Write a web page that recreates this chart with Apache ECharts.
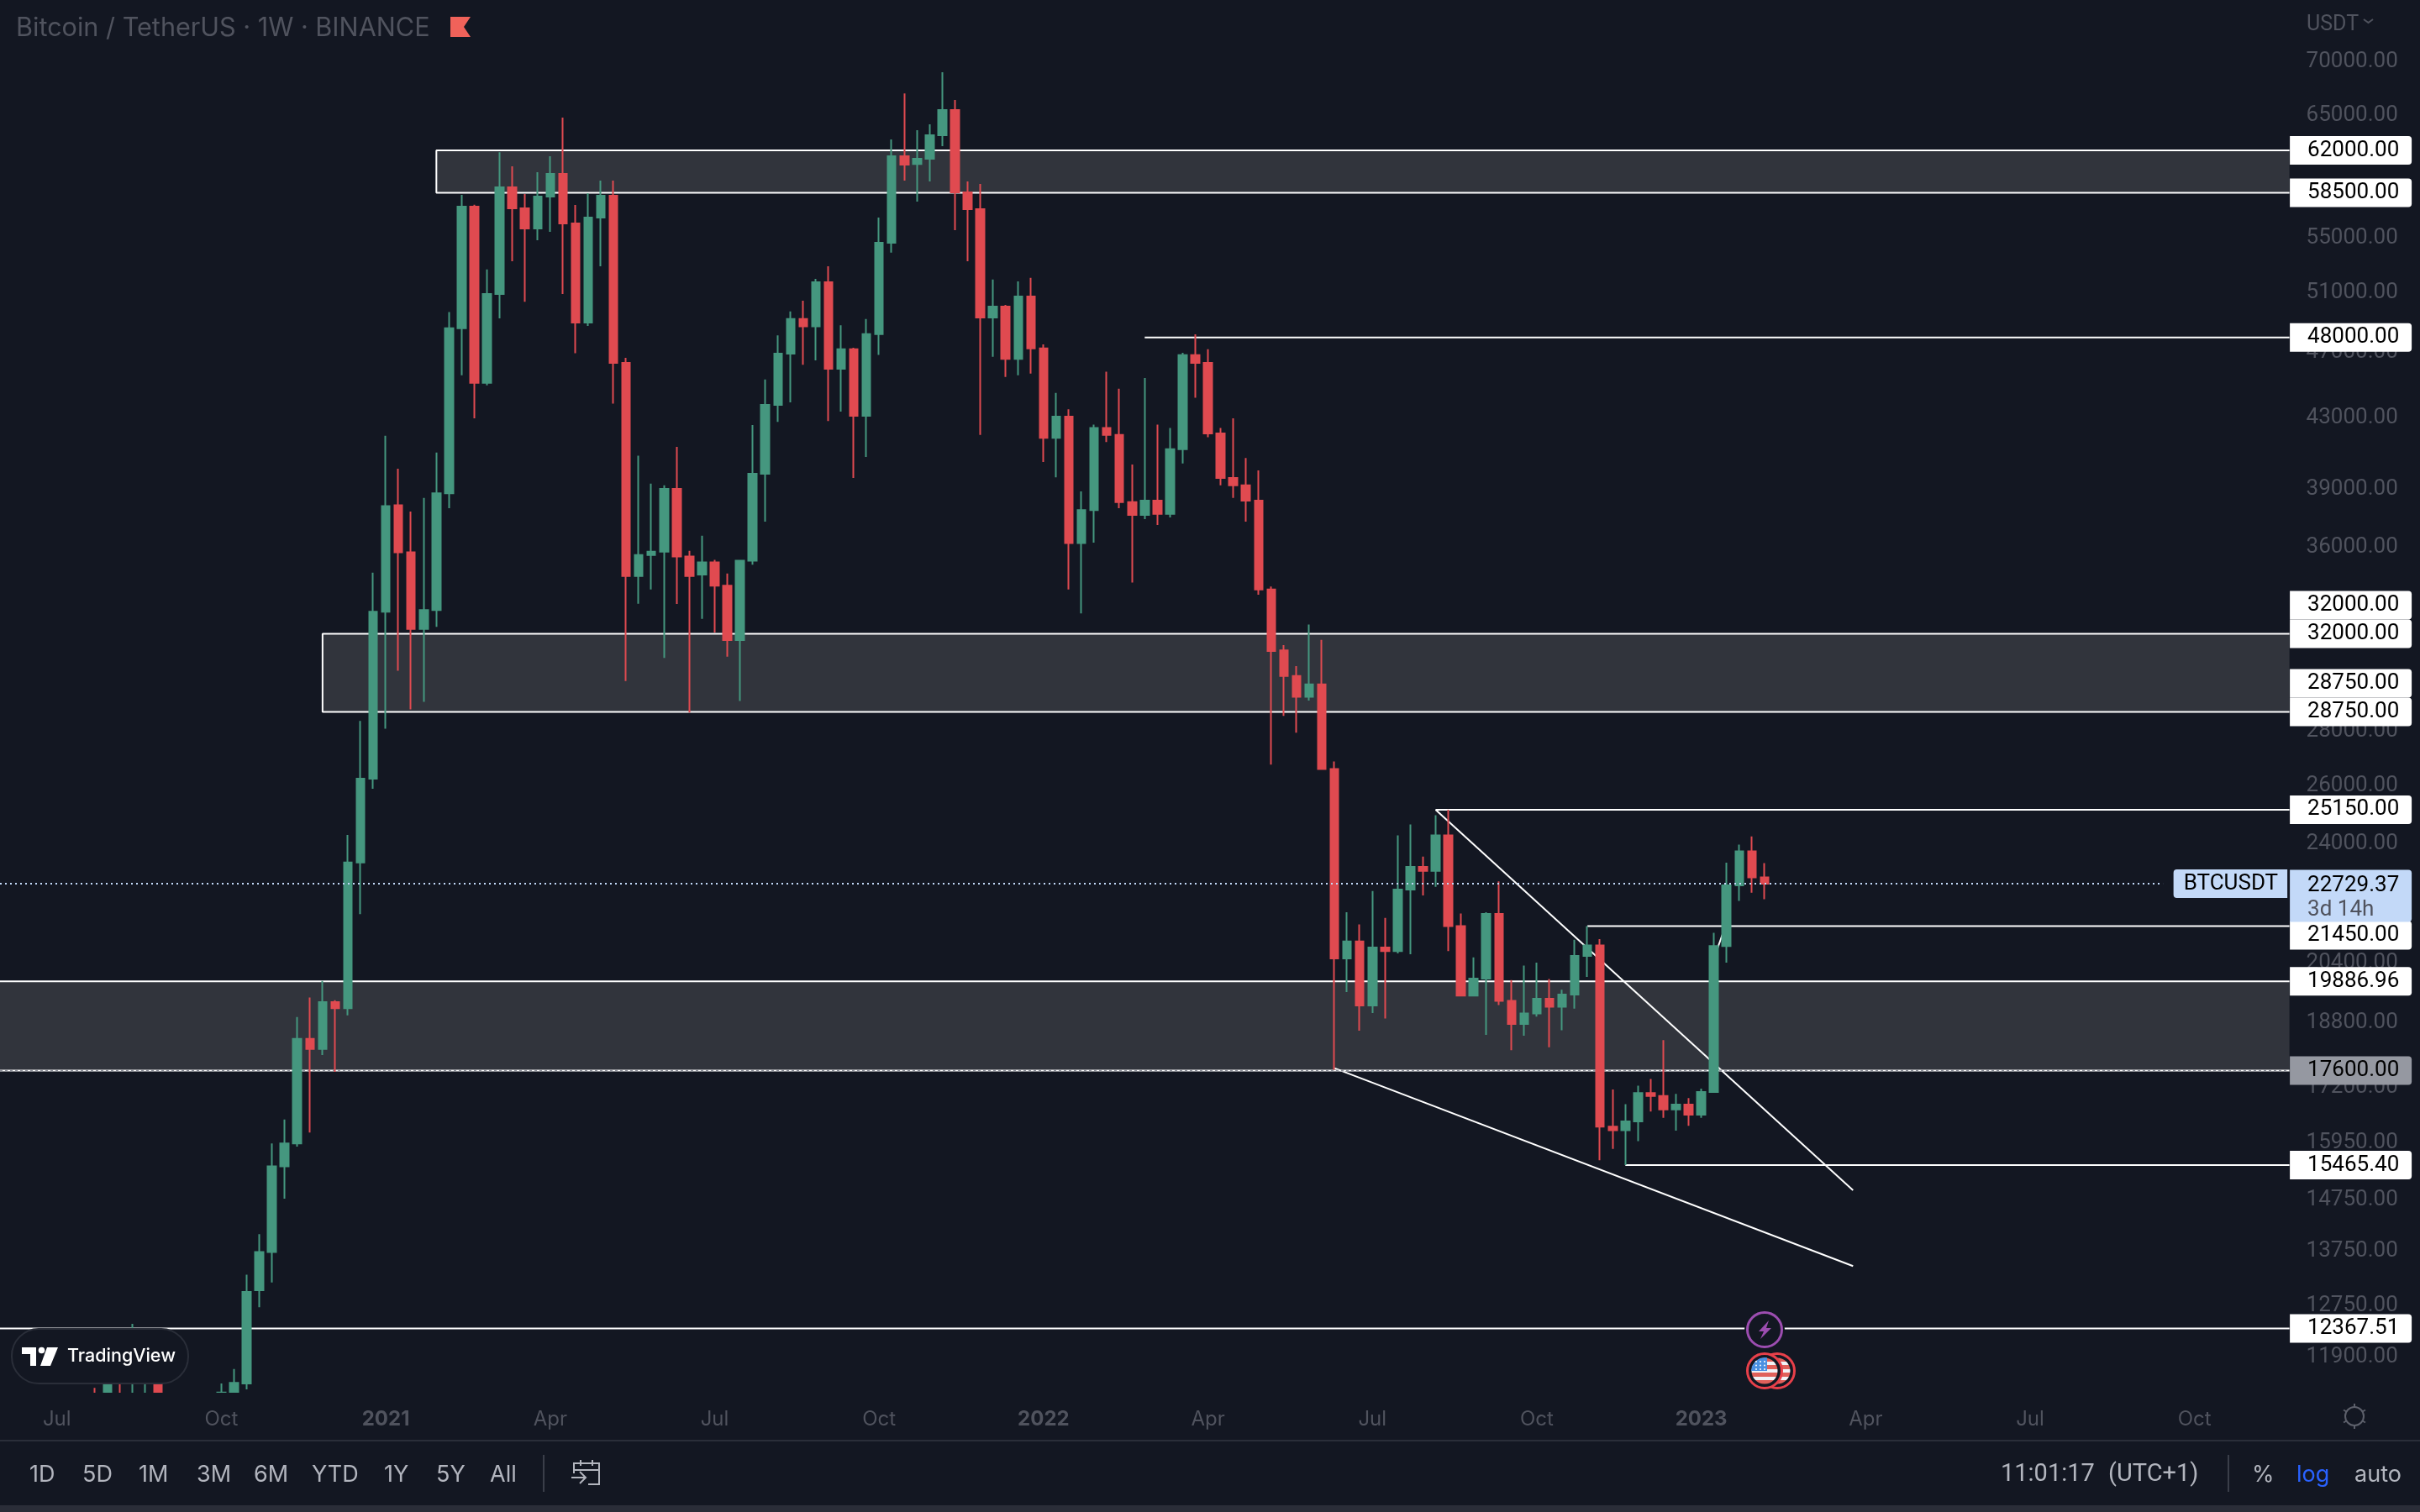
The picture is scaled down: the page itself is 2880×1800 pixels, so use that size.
<!DOCTYPE html>
<html><head><meta charset="utf-8"><style>html,body{margin:0;padding:0;background:#131722}#c{width:2880px;height:1800px}</style>
<script src="https://cdn.jsdelivr.net/npm/echarts@6/dist/echarts.min.js"></script></head><body><div id="c"></div>
<script>
const opens=[10000,11050,10950,11280,11000,11700,10250,10330,10930,10780,10670,11330,11470,13030,13730,15440,15930,18380,18130,19330,19170,23400,26240,32980,38150,35770,32210,33050,38780,48600,57400,45110,50930,58940,57270,55710,58200,60040,56100,48990,56550,58270,46350,34630,35640,35800,39010,35570,34700,35280,34170,31720,35360,39830,43770,46950,49220,48730,51770,45980,47230,43120,48220,54640,61500,60860,61300,63300,65520,58540,57200,49320,50060,46610,50760,47290,41830,43070,36230,37900,42400,42000,38310,37650,38390,37700,41190,46850,46350,42090,39600,39200,38390,34000,31280,30200,29350,29860,26590,20520,21000,19240,20830,20730,22550,23260,23130,24280,21450,19500,19960,21810,19360,18760,19030,19420,19210,19530,20590,20890,16300,16220,16420,17070,17000,16690,16800,16570,17090,20870,22680,23760,22930];
const closes=[11050,11600,11250,11100,11300,10250,10330,10930,10780,10670,11330,11480,13000,13730,15440,15930,18380,18130,19330,19170,23400,26240,32980,38110,35770,32210,33050,38780,48600,57400,45110,50930,58940,57270,55710,58200,60040,56100,48990,56550,58270,46350,34630,35640,35800,39010,35570,34630,35280,34170,31720,35360,39830,43770,46950,49220,48730,51770,45980,47230,43120,48220,54640,61500,60800,61300,63300,65520,58540,57200,49320,50060,46610,50760,47290,41830,43070,36230,37900,42400,42000,38310,37650,38390,37700,41190,46850,46350,42090,39600,39200,38390,34000,31250,30200,29350,29860,26590,20520,21000,19240,20830,20730,22550,23260,23130,24280,21450,19500,19960,21810,19360,18760,19030,19420,19210,19530,20590,20890,16300,16220,16420,17070,17000,16690,16800,16570,17090,20870,22680,23760,22930,22729.37];
const lows=[9900,10900,10700,10950,10800,9900,9800,10200,10140,10400,10530,11180,11380,12730,13170,14770,15860,16170,17980,17570,18980,21800,25880,28100,30420,28850,29150,32300,38000,45570,42970,44950,49270,53270,50400,54820,55460,50930,46970,48760,52910,43840,29990,33340,34000,30960,33330,28730,32660,32050,31010,29190,35170,37300,42760,43920,46240,46520,42810,43370,39600,40750,46870,53900,59490,57800,59420,62350,55590,53270,42000,46740,45470,45580,45680,40470,39640,34000,32900,36250,41600,38000,34320,37430,37130,37520,40400,44200,41870,39200,38530,37300,33750,26750,28600,27950,29200,26590,17620,19600,18590,19040,18900,20660,20640,22370,22630,20730,19480,19480,18480,19250,18100,18460,18950,18170,18600,19160,20010,15570,15810,15465,15980,16640,16500,16210,16320,16500,17090,20400,22200,22450,22250];
const highs=[11400,11800,12000,12445,11750,12050,10580,11180,10990,10950,11470,11700,13310,14070,15930,16460,18940,19450,19900,19380,24300,28400,34790,41950,40100,37820,38530,41000,49700,58330,57550,52680,61840,60660,58400,60170,61500,64840,57540,58470,59480,59480,46670,40830,39300,39210,41320,35840,36590,35400,34750,35400,42570,45310,48130,49730,50470,52000,52900,48800,47330,49230,56550,62930,67030,63730,64250,69000,66430,59420,59210,51950,50180,51820,52070,47540,44490,43500,38880,42600,45800,44750,40340,45400,42600,42400,47000,48200,47230,42400,42970,40700,40010,34130,31500,30610,32400,31730,26870,21860,21500,22500,21690,24280,24650,23590,24960,25150,21820,20550,21860,22800,19920,20320,20400,19950,19660,21050,21450,21070,17150,16810,17240,17400,18350,17050,16950,17170,21250,23390,23980,24250,23380];
const leadingWeeks=7, totalWeeks=181;
const firstWeek='2020-06-01';
const priceTicks=[70000,65000,55000,51000,47000,43000,39000,36000,28000,26000,24000,20400,18800,17200,15950,14750,13750,12750,11900];
const timeTickWeeks=[4,17,30,43,56,69,82,95,108,121,134,147,160,173];
const timeTickLabels=['Jul','Oct','2021','Apr','Jul','Oct','2022','Apr','Jul','Oct','2023','Apr','Jul','Oct'];
const zoneTops=[62000,32000,19886.96];
const zoneBottoms=[58500,28750,17600];
const zoneStartWeeks=[34,25,-0.5];
const rayPrices=[48000,25150,21450,15465.40,12367.51];
const rayStartWeeks=[90,113,125,128,-0.5];
const trendA=[[113,25150],[146,14940]];
const trendB=[[105,17660],[146,13470]];
const trendC=[[135,20520],[136,21540]];
const tagPrices=[62000,58500,48000,32000,32000,28750,28750,25150,21450,19886.96,17600,15465.40,12367.51];
const tagShift=[0,0,0,-34,0,-34,0,0,11,0,0,0,0];
const lastPrice=22729.37;
const symbolName='BTCUSDT', countdown='3d 14h';
const titleText='Bitcoin / TetherUS · 1W · BINANCE';
const rangeLabels=['1D','5D','1M','3M','6M','YTD','1Y','5Y','All'];
const rangeX=[35,98,165,234,302,371,457,519,583];

const BG='#131722',GREEN='#45977f',RED='#e04a50',GRAY='#50535e',FONT='Inter, "Noto Sans", sans-serif',NUM='Roboto, Inter, sans-serif';
const W=15.06, GL=-1.25;
const yMax=62000*Math.exp(179/870), yMin=62000*Math.exp(-(1658-179)/870), floorPrice=yMin*0.997;
const t0=new Date(firstWeek+'T00:00:00Z').getTime();
const categories=Array.from({length:totalWeeks},(_,k)=>new Date(t0+k*7*864e5).toISOString().slice(0,10));
const pad=Array(leadingWeeks).fill('-');
const cut=x=>Math.max(x,floorPrice);
const candleData=pad.concat(opens.map((o,i)=>highs[i]<yMin?'-':[cut(o),cut(closes[i]),cut(lows[i]),highs[i]]));
const v=k=>k+0.5;
const lineSeries=(pts,extra={})=>({type:'line',xAxisIndex:1,yAxisIndex:0,data:pts,showSymbol:false,symbol:'none',silent:true,z:2,animation:false,
  lineStyle:Object.assign({color:'#fff',width:2},extra)});
const series=[];
series.push({type:'candlestick',xAxisIndex:0,yAxisIndex:0,data:candleData,barWidth:10,z:3,animation:false,silent:true,
  itemStyle:{color:GREEN,color0:RED,borderColor:GREEN,borderColor0:RED,borderWidth:2},
  markArea:{silent:true,z:1,animation:false,itemStyle:{color:'#31343c',borderWidth:0},
    data:zoneTops.map((t,i)=>[{xAxis:Math.max(zoneStartWeeks[i],0),yAxis:t},{yAxis:zoneBottoms[i]}])}});
// the band for the full-width zone starts left of the first category centre
series.push({type:'line',xAxisIndex:1,yAxisIndex:0,data:[],silent:true,z:1,animation:false,
  markArea:{silent:true,z:1,animation:false,itemStyle:{color:'#31343c',borderWidth:0},
    data:[[{xAxis:0,yAxis:zoneTops[2]},{xAxis:1,yAxis:zoneBottoms[2]}]]}});
zoneTops.forEach((t,i)=>{const x=v(zoneStartWeeks[i]);
  if(zoneStartWeeks[i]<0){
    series.push(lineSeries([[x,t],[totalWeeks,t]]));
    series.push(lineSeries([[x,zoneBottoms[i]],[totalWeeks,zoneBottoms[i]]]));
  } else series.push(lineSeries([[totalWeeks,t],[x,t],[x,zoneBottoms[i]],[totalWeeks,zoneBottoms[i]]]));});
rayPrices.forEach((p,i)=>series.push(lineSeries([[v(rayStartWeeks[i]),p],[totalWeeks,p]])));
[trendA,trendB,trendC].forEach(t=>series.push(lineSeries(t.map(d=>[v(d[0]),d[1]]))));
series.push(lineSeries([[0,zoneBottoms[2]],[totalWeeks,zoneBottoms[2]]],{color:'#8f929b',type:[3,3],width:2}));
series.push(Object.assign(lineSeries([[0,lastPrice],[171,lastPrice]],{color:'#c3d9f8',type:[2,4],width:2}),{z:6}));
const clear={color:'rgba(0,0,0,0)',opacity:1};
const tagLabel=(txt,shift,bg)=>({show:true,position:'right',distance:0,offset:[0,shift],formatter:txt,color:'#000',fontFamily:NUM,fontSize:26,opacity:1,
  backgroundColor:bg,borderRadius:[0,4,4,0],width:124,height:30,lineHeight:30,padding:[4,0,0,21],align:'left',verticalAlign:'middle'});
series.push({type:'scatter',xAxisIndex:1,yAxisIndex:0,symbolSize:1,clip:false,silent:true,z:10,animation:false,itemStyle:clear,
  data:tagPrices.map((p,i)=>({value:[totalWeeks,p],label:tagLabel(p.toFixed(2),tagShift[i],p===17600?'#9598a1':'#fff')}))});
series.push({type:'scatter',xAxisIndex:1,yAxisIndex:0,symbolSize:1,clip:false,silent:true,z:11,animation:false,itemStyle:clear,
  data:[{value:[totalWeeks,lastPrice],label:{show:true,position:'right',distance:0,offset:[0,14.5],align:'left',verticalAlign:'middle',opacity:1,
     formatter:'{a|'+lastPrice.toFixed(2)+'}\n{b|'+countdown+'}',backgroundColor:'#c3d9f8',borderRadius:[0,4,4,0],width:124,height:57.5,padding:[4.5,0,0,21],
     rich:{a:{color:'#000',fontFamily:NUM,fontSize:26,lineHeight:29},b:{color:'#50535e',fontFamily:NUM,fontSize:26,lineHeight:29}}}},
   {value:[totalWeeks,lastPrice],label:{show:true,position:'left',distance:2,formatter:symbolName,color:'#000',fontFamily:NUM,fontSize:26,opacity:1,
     backgroundColor:'#c3d9f8',borderRadius:[4,0,0,4],padding:[4,11,0,12],height:30,lineHeight:30,align:'right',verticalAlign:'middle'}}]});

const G=[];
const T=(text,x,y,fill,size,weight='400',fam=FONT)=>G.push({type:'text',z:50,silent:true,style:{text,x,y,fill,font:weight+' '+size+'px '+fam,verticalAlign:'middle',align:'left'}});
const L=(x1,y1,x2,y2,c,w=2)=>G.push({type:'line',z:50,silent:true,shape:{x1,y1,x2,y2},style:{stroke:c,lineWidth:w}});
const P=(points,c)=>G.push({type:'polygon',z:50,silent:true,shape:{points},style:{fill:c}});
const PL=(points,c,w=2)=>G.push({type:'polyline',z:50,silent:true,shape:{points},style:{stroke:c,lineWidth:w,fill:'none'}});
// plot-floor edge: the marks stop at the bottom of the plot
G.push({type:'rect',z:4,silent:true,shape:{x:0,y:1658,width:2880,height:8},style:{fill:BG}});
// header
P([[536,20],[560,20],[552,32],[560,44],[536,44]],'#f0625a');
T('USDT',2745,30,GRAY,25,'400',NUM);
PL([[2813,23],[2818.5,27],[2824,23]],GRAY,2);
// bottom bar
G.push({type:'rect',z:1,silent:true,shape:{x:0,y:1714,width:2880,height:2},style:{fill:'#2a2e39'}});
G.push({type:'rect',z:1,silent:true,shape:{x:0,y:1792,width:2880,height:8},style:{fill:'#2a2d38'}});
rangeLabels.forEach((t,i)=>T(t,rangeX[i],1756,'#b2b5be',27));
L(647,1732,647,1776,'#3a3e49',2);
// calendar
PL([[683,1754],[683,1742],[713,1742],[713,1767],[700,1767]],'#b2b5be');
L(683,1750,713,1750,'#b2b5be');L(691,1738,691,1745,'#b2b5be');L(705,1738,705,1745,'#b2b5be');
L(680,1759,696,1759,'#b2b5be');PL([[690,1752],[697,1759],[690,1766]],'#b2b5be');
T('11:01:17',2381,1756,'#b2b5be',29,'400',NUM);
T('(UTC+1)',2509,1756,'#b2b5be',29,'400',NUM);
L(2652,1732,2652,1776,'#3a3e49',2);
T('%',2680,1756,'#b2b5be',27);T('log',2733,1756,'#2962ff',27);T('auto',2802,1756,'#b2b5be',27);
// gear
G.push({type:'circle',z:50,silent:true,shape:{cx:2802,cy:1686,r:11},style:{stroke:'#5d606b',lineWidth:2,fill:'none'}});
for(let a=0;a<6;a++){const r=Math.PI/3*a+Math.PI/2;L(2802+11*Math.cos(r),1686+11*Math.sin(r),2802+15*Math.cos(r),1686+15*Math.sin(r),'#5d606b');}
// TradingView pill
G.push({type:'rect',z:40,silent:true,shape:{x:14,y:1582,width:210,height:65,r:32},style:{fill:BG,stroke:'#2a2e39',lineWidth:2}});
P([[26,1604],[43,1604],[43,1626],[36,1626],[36,1612],[26,1612]],'#fff');
G.push({type:'circle',z:50,silent:true,shape:{cx:49.5,cy:1607.5,r:3.8},style:{fill:'#fff'}});
P([[56,1604],[69,1604],[60,1626],[48,1626]],'#fff');
T('TradingView',80,1615,'#fff',21.5,'500');
// event badges
G.push({type:'circle',z:45,silent:true,shape:{cx:2100,cy:1583,r:24},style:{fill:BG}});
G.push({type:'circle',z:50,silent:true,shape:{cx:2100,cy:1583,r:20.5},style:{stroke:'#9c4db0',lineWidth:3,fill:BG}});
P([[2105,1572],[2093,1585],[2099,1585],[2095,1594],[2108,1581],[2102,1581]],'#9c4db0');
const stripes=['#e0605a','#f2f2f6','#e0605a','#f2f2f6','#e0605a','#f2f2f6','#e0605a'];
const stops=[];stripes.forEach((c,i)=>{stops.push({offset:i/7,color:c},{offset:(i+1)/7,color:c});});
[2115,2100].forEach(cx=>{
  G.push({type:'circle',z:50,silent:true,shape:{cx,cy:1632,r:20.5},style:{stroke:'#e8404a',lineWidth:3,fill:BG}});
  G.push({type:'circle',z:50,silent:true,shape:{cx,cy:1632,r:15.5},style:{fill:{type:'linear',x:0,y:0,x2:0,y2:1,colorStops:stops}}});
});
P([[2103,1632],[2084,1632],[2085,1626.5],[2088.7,1620.7],[2094.5,1617],[2100,1616],[2103,1616.3]],'#4a90e2');
for(let i=0;i<3;i++)for(let j=0;j<3;j++)G.push({type:'circle',z:51,silent:true,shape:{cx:2090+j*5,cy:1621+i*4.5,r:1},style:{fill:'#fff'}});

const chart=echarts.init(document.getElementById('c'),null,{renderer:'canvas',width:2880,height:1800});
chart.setOption({animation:false,backgroundColor:BG,
 title:{text:titleText,left:19,top:18,padding:0,textStyle:{color:GRAY,fontFamily:FONT,fontSize:30.6,fontWeight:400}},
 grid:{left:GL,top:0,width:W*totalWeeks,height:1658,containLabel:false},
 xAxis:[{type:'category',data:categories,boundaryGap:true,axisLine:{show:false},axisTick:{show:false},splitLine:{show:false},
   axisLabel:{show:true,margin:20,color:GRAY,fontFamily:FONT,fontSize:24,hideOverlap:false,
     interval:(i)=>timeTickWeeks.includes(i),
     formatter:(val,i)=>{const t=timeTickLabels[timeTickWeeks.indexOf(i)];return /^\d+$/.test(t||'')?'{y|'+t+'}':(t||'');},
     rich:{y:{color:GRAY,fontFamily:FONT,fontSize:24,fontWeight:700}}}},
  {type:'value',min:0,max:totalWeeks,show:false}],
 yAxis:[{type:'log',logBase:10,position:'right',max:yMax,min:yMin,
   axisLine:{show:false},axisTick:{show:false},splitLine:{show:false},minorTick:{show:false},minorSplitLine:{show:false},
   axisLabel:{show:true,margin:20,color:GRAY,fontFamily:NUM,fontSize:26,padding:[9,0,0,0],customValues:priceTicks,formatter:(x)=>(+x).toFixed(2)}}],
 series,graphic:{elements:G}});
</script></body></html>
